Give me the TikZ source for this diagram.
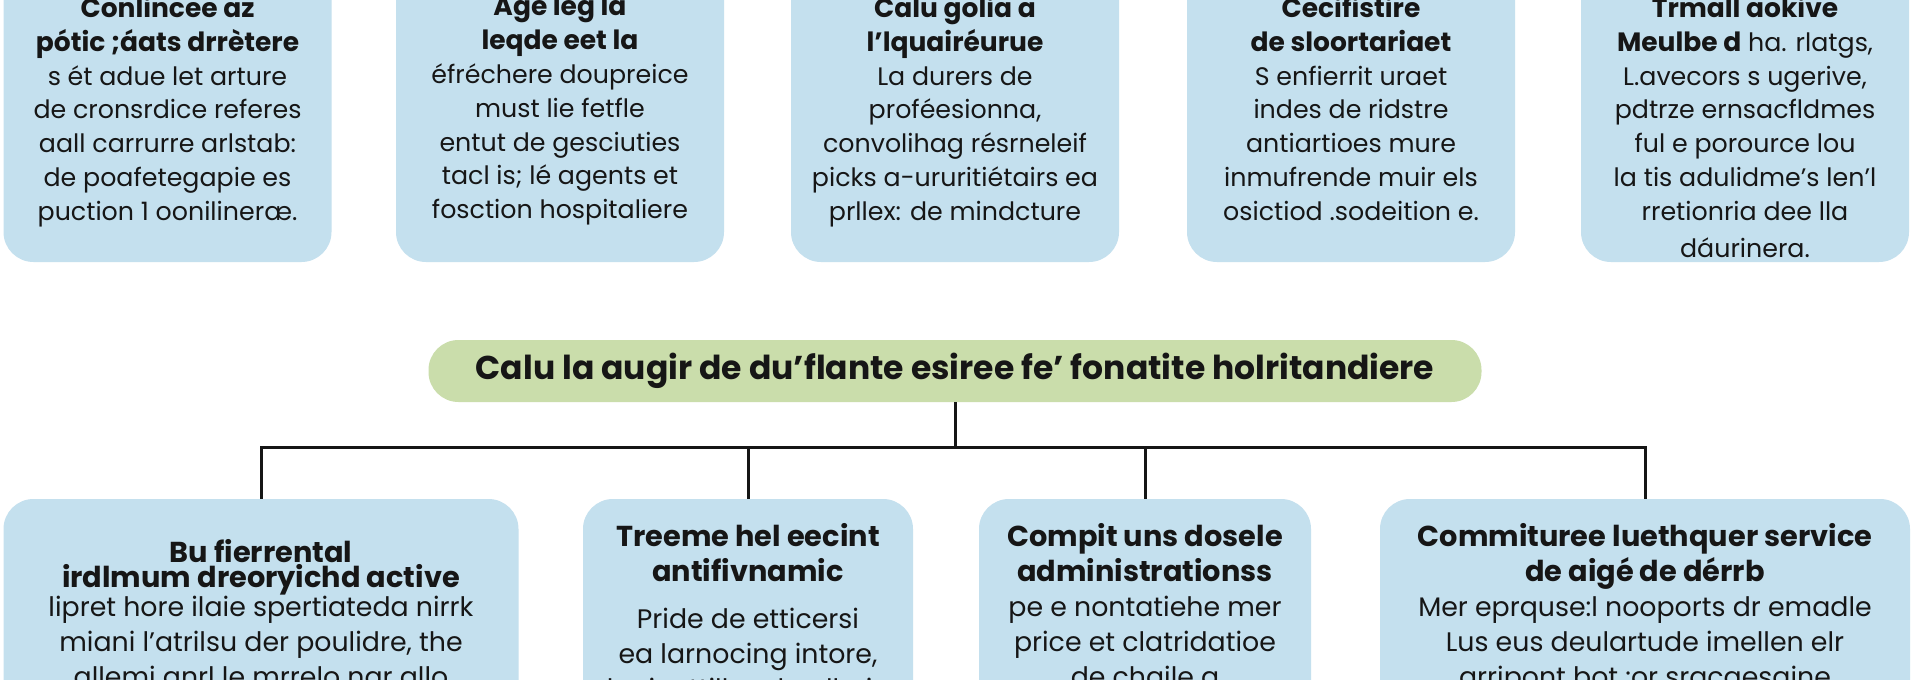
\documentclass[tikz,border=0pt]{standalone}
\usepackage{fontspec}
\setmainfont{Poppins}
\definecolor{boxblue}{HTML}{C4E0EE}
\definecolor{headgreen}{HTML}{CADDAB}
\definecolor{ink}{HTML}{161616}
\newcommand\tophd[1]{{\bfseries\fontsize{26.5}{33.8}\selectfont #1}}
\newcommand\lowhd[1]{{\bfseries\fontsize{28.8}{35}\selectfont #1}}
\begin{document}
\begin{tikzpicture}[x=1pt, y=-1pt,
  card/.style={rectangle, rounded corners=30pt, fill=boxblue, inner sep=0pt, minimum width=#1},
  topcard/.style={card=328pt, minimum height=322pt},
  lowcard/.style={card=#1, minimum height=300pt},
  toptext/.style={anchor=north, align=center, inner sep=0pt, text=ink, font=\fontsize{25.3}{33.8}\selectfont},
  lowtext/.style={anchor=north, align=center, inner sep=0pt, text=ink, font=\fontsize{26.8}{35}\selectfont},
  headbox/.style={rectangle, rounded corners=30pt, fill=headgreen, minimum width=1053pt, minimum height=62pt, inner sep=0pt, text=ink, font=\bfseries\fontsize{33}{36}\selectfont},
  link/.style={draw=ink, line width=3pt}]
\useasboundingbox (0,0) rectangle (1920,680);
\clip (0,0) rectangle (1920,680);
\fill[white] (0,0) rectangle (1920,680);

% upper row
\node[topcard] (c1) at (167.5,101) {};
\node[topcard] (c2) at (560,101) {};
\node[topcard] (c3) at (955,101) {};
\node[topcard] (c4) at (1351,101) {};
\node[topcard] (c5) at (1745,101) {};
\node[toptext] (c1txt) at (167.5,-4) {\tophd{Conlincee az}\\\tophd{pótic ;áats drrètere}\\s ét adue let arture\\de cronsrdice referes\\aall carrurre arlstab:\\de poafetegapie es\\puction 1 oonilineræ.};
\node[toptext] (c2txt) at (560,-4) {\tophd{Age leg la}\\\tophd{leqde eet la}\\éfréchere doupreice\\must lie fetfle\\entut de gesciuties\\tacl is; lé agents et\\fosction hospitaliere};
\node[toptext] (c3txt) at (955,-4) {\tophd{Calu golia a}\\\tophd{l'lquairéurue}\\La durers de\\proféesionna,\\convolihag résrneleif\\picks a-ururitiétairs ea\\prllex: de mindcture};
\node[toptext] (c4txt) at (1351,-4) {\tophd{Cecifistire}\\\tophd{de sloortariaet}\\S enfierrit uraet\\indes de ridstre\\antiartioes mure\\inmufrende muir els\\osictiod .sodeition e.};
\node[toptext] (c5txt) at (1745,-4) {\tophd{Trmall aokive}\\\tophd{Meulbe d} ha. rlatgs,\\L.avecors s ugerive,\\pdtrze ernsacfldmes\\ful e porource lou\\la tis adulidme's len'l\\rretionria dee lla\\[3pt]dáurinera.};

% title
\node[headbox] (head) at (955,371) {Calu la augir de du'flante esiree fe' fonatite holritandiere};

% lower row
\node[lowcard=515pt] (b1) at (261,649) {};
\node[lowcard=330pt] (b2) at (748,649) {};
\node[lowcard=332pt] (b3) at (1145,649) {};
\node[lowcard=530pt] (b4) at (1645,649) {};
\node[lowtext] (b1txt) at (261,539) {\lowhd{Bu fierrental}\\[-10pt]\lowhd{irdlmum dreoryichd active}\\[-6pt]lipret hore ilaie spertiateda nirrk\\miani l'atrilsu der poulidre, the\\allemi anrl le mrrelo nar allo};
\node[lowtext] (b2txt) at (748,523) {\lowhd{Treeme hel eecint}\\\lowhd{antifivnamic}\\[12pt]Pride de etticersi\\ea larnocing intore,\\be inettilles de allerie};
\node[lowtext] (b3txt) at (1145,523) {\lowhd{Compit uns dosele}\\\lowhd{administrationss}\\pe e nontatiehe mer\\price et clatridatioe\\de chaile a};
\node[lowtext] (b4txt) at (1645,523) {\lowhd{Commituree luethquer service}\\\lowhd{de aigé de dérrb}\\Mer eprquse:l nooports dr emadle\\Lus eus deulartude imellen elr\\arripont bot :or sracgesaine};

% connectors
\coordinate (hub) at (955,447);
\draw[link] (head.south) -- (hub);
\draw[link] (b1.north) |- (hub) -| (b4.north);
\draw[link] (b2.north) -- (b2.north |- hub);
\draw[link] (b3.north) -- (b3.north |- hub);
\end{tikzpicture}
\end{document}
